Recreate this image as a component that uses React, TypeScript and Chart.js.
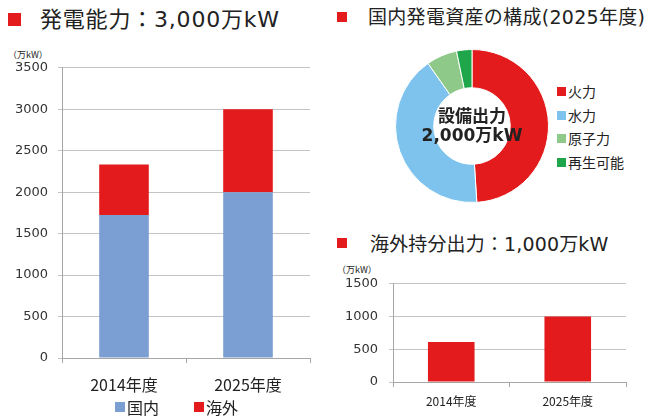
import React, { useEffect, useRef } from 'react';
import { Chart, registerables } from 'chart.js';

Chart.register(...registerables);

const FONT_JP = '"Noto Sans CJK JP", "Noto Sans", sans-serif';
const FONT_MIX = '"DejaVu Sans", "Noto Sans CJK JP", sans-serif';
const FONT_NUM = '"DejaVu Sans", "Noto Sans", sans-serif';

const RED = '#e31b1c';
const BLUE = '#7b9fd3';
const TEXT = '#222222';

// Left chart: 発電能力
const years = ['2014年度', '2025年度'];
const domesticOutput = [1725, 2000];
const overseasOutput = [610, 1000];
const capacityMax = 3500;
const capacityStep = 500;

// Doughnut: 国内発電資産の構成(2025年度)
const mixLabels = ['火力', '水力', '原子力', '再生可能'];
const mixValues = [980, 825, 130, 65];
const mixColors = ['#e31b1c', '#7dc3ee', '#8fc98a', '#1fa64a'];
const centerLines = ['設備出力', '2,000万kW'];

// Bottom-right chart: 海外持分出力
const shareYears = ['2014年度', '2025年度'];
const overseasShare = [610, 1000];
const shareMax = 1500;
const shareStep = 500;

const centerTextPlugin = {
  id: 'centerText',
  afterDraw(chart: any) {
    const { ctx, chartArea } = chart;
    const cx = (chartArea.left + chartArea.right) / 2;
    const cy = (chartArea.top + chartArea.bottom) / 2;
    ctx.save();
    ctx.fillStyle = TEXT;
    ctx.textAlign = 'center';
    ctx.textBaseline = 'middle';
    ctx.font = `bold 17px ${FONT_JP}`;
    ctx.fillText(centerLines[0], cx, cy - 10);
    ctx.font = `bold 17px ${FONT_MIX}`;
    ctx.fillText(centerLines[1], cx, cy + 11);
    ctx.restore();
  },
};

function Txt(props: { x: number; cy: number; size: number; text: string; bold?: boolean; color?: string; family?: string; spacing?: number }) {
  return (
    <div
      style={{
        position: 'absolute',
        left: props.x,
        top: props.cy - props.size / 2,
        height: props.size,
        lineHeight: props.size + 'px',
        fontSize: props.size,
        fontFamily: props.family || FONT_JP,
        fontWeight: props.bold ? 'bold' : 'normal',
        color: props.color || TEXT,
        letterSpacing: props.spacing ? props.spacing + 'px' : undefined,
        whiteSpace: 'nowrap',
      }}
    >
      {props.text}
    </div>
  );
}

function Sq(props: { x: number; y: number; w: number; h: number; color: string }) {
  return (
    <div
      style={{
        position: 'absolute',
        left: props.x,
        top: props.y,
        width: props.w,
        height: props.h,
        background: props.color,
      }}
    />
  );
}

const plainTick = (v: any) => String(v);

export default function App() {
  const leftRef = useRef<HTMLCanvasElement>(null);
  const donutRef = useRef<HTMLCanvasElement>(null);
  const rightRef = useRef<HTMLCanvasElement>(null);

  useEffect(() => {
    const left = new Chart(leftRef.current as HTMLCanvasElement, {
      type: 'bar',
      data: {
        labels: years,
        datasets: [
          { label: '国内', data: domesticOutput, backgroundColor: BLUE, categoryPercentage: 1, barPercentage: 0.4 },
          { label: '海外', data: overseasOutput, backgroundColor: RED, categoryPercentage: 1, barPercentage: 0.4 },
        ],
      },
      options: {
        animation: false,
        responsive: false,
        layout: { padding: { top: 0, right: 12, left: 0, bottom: 0 } },
        plugins: { legend: { display: false }, tooltip: { enabled: false } },
        scales: {
          x: {
            stacked: true,
            grid: { display: true, drawOnChartArea: false, tickLength: 5, color: '#a6a6a6', offset: true },
            border: { color: '#a6a6a6' },
            ticks: { font: { family: FONT_JP, size: 16 }, color: TEXT, padding: 12 },
            afterFit: (s: any) => { s.height = 61; },
          },
          y: {
            stacked: true,
            min: 0,
            max: capacityMax,
            ticks: { stepSize: capacityStep, font: { family: FONT_NUM, size: 13 }, color: '#333', padding: 10, callback: plainTick },
            grid: { color: '#c4c4c4', tickLength: 4 },
            border: { color: '#a6a6a6' },
            afterFit: (s: any) => { s.width = 62; },
          },
        },
      } as any,
    });

    const donut = new Chart(donutRef.current as HTMLCanvasElement, {
      type: 'doughnut',
      data: {
        labels: mixLabels,
        datasets: [{ data: mixValues, backgroundColor: mixColors, borderColor: '#ffffff', borderWidth: 1 }],
      },
      options: {
        animation: false,
        responsive: false,
        cutout: '50%',
        layout: { padding: 0 },
        plugins: { legend: { display: false }, tooltip: { enabled: false } },
      } as any,
      plugins: [centerTextPlugin],
    });

    const right = new Chart(rightRef.current as HTMLCanvasElement, {
      type: 'bar',
      data: {
        labels: shareYears,
        datasets: [
          { label: '海外持分出力', data: overseasShare, backgroundColor: RED, categoryPercentage: 1, barPercentage: 0.4 },
        ],
      },
      options: {
        animation: false,
        responsive: false,
        layout: { padding: { top: 0, right: 24, left: 0, bottom: 0 } },
        plugins: { legend: { display: false }, tooltip: { enabled: false } },
        scales: {
          x: {
            grid: { display: true, drawOnChartArea: false, tickLength: 5, color: '#a6a6a6', offset: true },
            border: { color: '#a6a6a6' },
            ticks: { font: { family: FONT_JP, size: 12 }, color: TEXT, padding: 7 },
            afterFit: (s: any) => { s.height = 37; },
          },
          y: {
            min: 0,
            max: shareMax,
            ticks: { stepSize: shareStep, font: { family: FONT_NUM, size: 13 }, color: '#333', padding: 11, callback: plainTick },
            grid: { color: '#c4c4c4', tickLength: 4 },
            border: { color: '#a6a6a6' },
            afterFit: (s: any) => { s.width = 71; },
          },
        },
      } as any,
    });

    return () => {
      left.destroy();
      donut.destroy();
      right.destroy();
    };
  }, []);

  return (
    <div
      style={{
        position: 'fixed',
        left: 0,
        top: 0,
        width: 650,
        height: 419,
        background: '#ffffff',
        overflow: 'hidden',
        fontFamily: FONT_JP,
      }}
    >
      {/* Titles */}
      <Sq x={8} y={13} w={13} h={13} color={RED} />
      <Txt x={40} cy={19.5} size={22} family={FONT_MIX} spacing={0.8} text="発電能力：3,000万kW" />
      <Sq x={337} y={12} w={10} h={10} color={RED} />
      <Txt x={368} cy={17} size={19} family={FONT_MIX} spacing={0.3} text="国内発電資産の構成(2025年度)" />
      <Sq x={337} y={238} w={10} h={10} color={RED} />
      <Txt x={370} cy={244} size={19} family={FONT_MIX} spacing={0.15} text="海外持分出力：1,000万kW" />

      {/* Unit labels */}
      <Txt x={8} cy={54} size={9} text="（万kW）" />
      <Txt x={337} cy={269} size={9} text="（万kW）" />

      <canvas ref={leftRef} width={322} height={369} style={{ position: 'absolute', left: 0, top: 50 }} />
      <canvas ref={donutRef} width={154} height={154} style={{ position: 'absolute', left: 395, top: 49 }} />
      <canvas ref={rightRef} width={328} height={154} style={{ position: 'absolute', left: 322, top: 265 }} />

      {/* Left legend */}
      <Sq x={115} y={402} w={10} h={10} color={BLUE} />
      <Txt x={127} cy={407} size={16} text="国内" />
      <Sq x={194} y={402} w={10} h={10} color={RED} />
      <Txt x={206} cy={407} size={16} text="海外" />

      {/* Doughnut legend */}
      {mixLabels.map((l, i) => {
        const cy = [91, 115, 138, 162][i];
        return (
          <React.Fragment key={l}>
            <Sq x={557} y={cy - 4.5} w={9} h={9} color={mixColors[i]} />
            <Txt x={568} cy={cy} size={14} text={l} />
          </React.Fragment>
        );
      })}
    </div>
  );
}
